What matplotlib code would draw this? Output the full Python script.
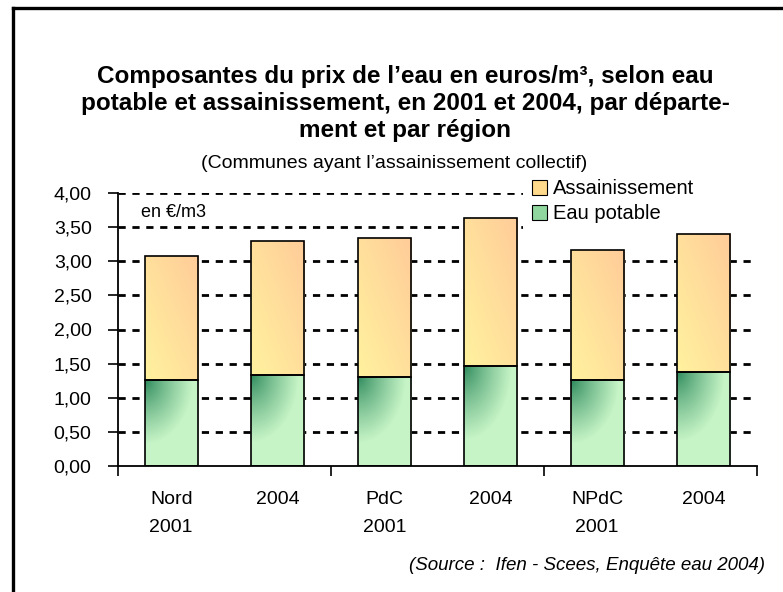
import numpy as np
import matplotlib
matplotlib.use("Agg")
import matplotlib.pyplot as plt
from matplotlib.patches import Patch
from matplotlib.lines import Line2D

# ---- data ----
categories = ["Nord\n2001", "2004", "PdC\n2001", "2004", "NPdC\n2001", "2004"]
eau_potable = [1.26, 1.34, 1.31, 1.47, 1.26, 1.38]
totals = [3.08, 3.30, 3.34, 3.63, 3.16, 3.40]
assainissement = [t - e for t, e in zip(totals, eau_potable)]
yticks = [0.0, 0.5, 1.0, 1.5, 2.0, 2.5, 3.0, 3.5, 4.0]
ytick_labels = ["0,00", "0,50", "1,00", "1,50", "2,00", "2,50", "3,00", "3,50", "4,00"]

FONT = ["Liberation Sans", "DejaVu Sans"]
plt.rcParams["font.family"] = FONT

W, H = 783, 592
fig = plt.figure(figsize=(W / 100, H / 100), dpi=100)

def fx(px):
    return px / W

def fy(py):
    return 1 - py / H

ax_l, ax_r, ax_b, ax_t = 118, 757, 466, 193
ax = fig.add_axes([fx(ax_l), fy(ax_b), fx(ax_r) - fx(ax_l), fy(ax_t) - fy(ax_b)])

x = np.arange(len(categories))
bw = 0.5

green_dark = np.array([0.16, 0.53, 0.35])
green_light = np.array([0.78, 0.96, 0.78])
yel = np.array([1.0, 0.95, 0.62])
peach = np.array([1.0, 0.80, 0.60])

n = 60
u, v = np.meshgrid(np.linspace(0, 1, n), np.linspace(0, 1, n))
t_g = np.clip(np.sqrt((u / 0.9) ** 2 + ((1 - v) / 0.75) ** 2), 0, 1) ** 0.8
img_green = green_dark[None, None, :] * (1 - t_g[..., None]) + green_light[None, None, :] * t_g[..., None]
t_y = np.clip((u + v) / 2.0, 0, 1)
img_yel = yel[None, None, :] * (1 - t_y[..., None]) + peach[None, None, :] * t_y[..., None]

bars_e = ax.bar(x, eau_potable, width=bw, color="none", edgecolor="black", linewidth=1.2, zorder=3)
bars_a = ax.bar(x, assainissement, bottom=eau_potable, width=bw, color="none",
                edgecolor="black", linewidth=1.2, zorder=3)

for bars, img in ((bars_e, img_green), (bars_a, img_yel)):
    for b in bars:
        x0, y0 = b.get_x(), b.get_y()
        x1, y1 = x0 + b.get_width(), y0 + b.get_height()
        im = ax.imshow(img, extent=[x0, x1, y0, y1], origin="lower", aspect="auto",
                       zorder=2, interpolation="bilinear")
        im.set_clip_path(b)

ax.set_xlim(-0.5, len(categories) - 0.5)
ax.set_ylim(0, 4.0)
ax.set_yticks(yticks)
ax.set_yticklabels(ytick_labels, fontsize=14)
for yv in yticks[1:]:
    ax.axhline(yv, color="black", linewidth=2.0, linestyle=(0, (2.6, 2.4)), zorder=1)

ax.set_xticks([-0.5, 1.5, 3.5, 5.5])
ax.set_xticklabels([])
ax.tick_params(axis="x", direction="out", length=7, width=1.2)
ax.tick_params(axis="y", direction="out", length=7, width=1.2, pad=12)
for i, lab in enumerate(categories):
    ax.text(i, -0.37, lab, ha="center", va="top", fontsize=14, linespacing=1.85,
            transform=ax.transData)

for s in ["top", "right"]:
    ax.spines[s].set_visible(False)
for s in ["left", "bottom"]:
    ax.spines[s].set_linewidth(1.3)

ax.text(0.036, 3.71, "en €/m3", transform=ax.get_yaxis_transform(), fontsize=13,
        va="center", ha="left")

handles = [Patch(facecolor="#ffd98c", edgecolor="black", linewidth=0.8),
           Patch(facecolor="#8fd69f", edgecolor="black", linewidth=0.8)]
axw = ax_r - ax_l
axh = ax_b - ax_t
leg = ax.legend(handles, ["Assainissement", "Eau potable"], loc="upper left",
                bbox_to_anchor=((523 - ax_l) / axw, (ax_b - 173) / axh,
                                (ax_r + 30 - 523) / axw, 0.01),
                mode="expand",
                fontsize=14.5, frameon=True, facecolor="white", edgecolor="none",
                framealpha=1, handlelength=0.75, handleheight=0.75, handletextpad=0.3,
                labelspacing=0.3, borderpad=0.45, borderaxespad=0)
leg.set_zorder(5)

fig.text(fx(405), fy(65),
         "Composantes du prix de l’eau en euros/m³, selon eau\n"
         "potable et assainissement, en 2001 et 2004, par départe-\n"
         "ment et par région",
         ha="center", va="top", fontsize=17.5, fontweight="bold",
         linespacing=1.22)
fig.text(fx(394), fy(163), "(Communes ayant l’assainissement collectif)",
         ha="center", va="center", fontsize=14)
fig.text(fx(765), fy(566), "(Source :  Ifen - Scees, Enquête eau 2004)",
         ha="right", va="center", fontsize=13.5, style="italic")

# outer frame (top and left edges visible)
fig.add_artist(Line2D([fx(13), fx(13)], [fy(8), 0], transform=fig.transFigure,
                      color="black", linewidth=2.4))
fig.add_artist(Line2D([fx(13), 1], [fy(8), fy(8)], transform=fig.transFigure,
                      color="black", linewidth=2.4))

fig.savefig("out.png", dpi=100)
